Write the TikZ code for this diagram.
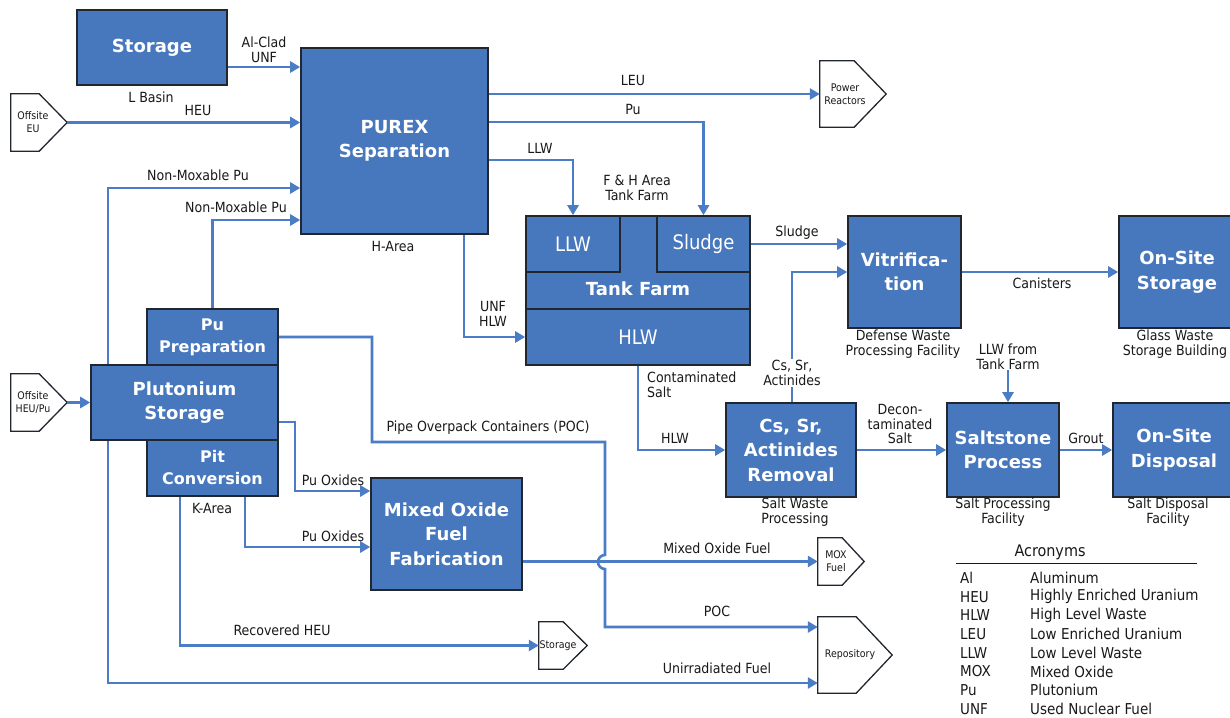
\documentclass[tikz,border=0pt]{standalone}
\usepackage{fontspec}
\setmainfont{DejaVu Sans}
\newfontfamily\condfont{DejaVu Sans Condensed}
\usetikzlibrary{arrows.meta}

\definecolor{boxblue}{RGB}{71,119,189}
\definecolor{flowblue}{RGB}{74,125,198}
\definecolor{edgeink}{RGB}{34,38,46}
\definecolor{ink}{RGB}{25,25,25}

\tikzset{
  proc/.style={draw=edgeink, line width=1.6pt, fill=boxblue, text=white,
    font=\bfseries\fontsize{18}{24.5}\selectfont, align=center, inner sep=0pt},
  subproc/.style={proc, font=\bfseries\fontsize{16}{22}\selectfont},
  tankpart/.style={proc, font=\condfont\fontsize{20}{22}\selectfont},
  lbl/.style={text=ink, font=\condfont\fontsize{14}{14.5}\selectfont, align=center, inner sep=0pt},
  acr/.style={text=ink, font=\condfont\fontsize{15}{16}\selectfont, inner sep=0pt, anchor=west},
  flow/.style={draw=flowblue, line width=2.6pt, -{Triangle[length=10pt,width=11pt]}},
  flowline/.style={draw=flowblue, line width=2.6pt},
  termhold/.style={inner sep=0pt},
  termline/.style={draw=edgeink, line width=1.3pt, fill=white},
  termtxt/.style={text=ink, font=\condfont\fontsize{10.5}{13}\selectfont, align=center, inner sep=0pt},
}

% outline of a terminal (pentagon pointing right) around a holder node
\newcommand\termshape[2]{%
  \draw[termline] (#1.north west) -- ([xshift=-#2pt]#1.north east) -- (#1.east)
    -- ([xshift=-#2pt]#1.south east) -- (#1.south west) -- cycle;}

\begin{document}
\begin{tikzpicture}[x=1pt,y=-1pt]
\useasboundingbox[fill=white] (0,0) rectangle (1230,717);

% ---------- process boxes ----------
\node[proc, minimum width=150pt, minimum height=75pt] (storage) at (152,47.5) {Storage};
\node[proc, minimum width=187pt, minimum height=186pt] (purex) at (394.5,141) {PUREX\\Separation};

\node[proc, minimum width=224pt, minimum height=149pt] (tank) at (638,290.5) {};
\node[tankpart, minimum width=94pt, minimum height=56pt] (llw) at (573,244) {LLW};
\node[tankpart, minimum width=93pt, minimum height=56pt] (sludge) at (703.5,244) {Sludge};
\node[tankpart, minimum width=224pt, minimum height=56pt] (hlw) at (638,337) {HLW};
\node[text=white, font=\bfseries\fontsize{18}{22}\selectfont, inner sep=0pt] (tanklbl) at (638,289) {Tank Farm};

\node[proc, minimum width=113pt, minimum height=112pt] (vitrif) at (904.5,272) {Vitrifica-\\tion};
\node[proc, minimum width=116pt, minimum height=112pt] (onsite) at (1177,272) {On-Site\\Storage};

\node[subproc, minimum width=131pt, minimum height=56pt] (puprep) at (212.5,337) {Pu\\Preparation};
\node[subproc, minimum width=131pt, minimum height=56pt] (pitconv) at (212.5,468) {Pit\\Conversion};
\node[proc, minimum width=187pt, minimum height=75pt] (pustor) at (184.5,402.5) {Plutonium\\Storage};

\node[proc, minimum width=151pt, minimum height=112pt] (mox) at (446.5,534) {Mixed Oxide\\Fuel\\Fabrication};
\node[proc, minimum width=130pt, minimum height=94pt] (cssr) at (791,450) {Cs, Sr,\\Actinides\\Removal};
\node[proc, minimum width=112pt, minimum height=94pt] (saltstone) at (1003,450) {Saltstone\\Process};
\node[proc, minimum width=122pt, minimum height=94pt] (disposal) at (1174,450) {On-Site\\Disposal};

% ---------- terminals ----------
\node[termhold, minimum width=56pt, minimum height=57pt] (offeu) at (39,122.5) {};
\termshape{offeu}{28}
\node[termtxt] (offeutxt) at (33,122) {Offsite\\EU};

\node[termhold, minimum width=56pt, minimum height=57pt] (offpu) at (39,402.5) {};
\termshape{offpu}{28}
\node[termtxt] (offputxt) at (33,402) {Offsite\\HEU/Pu};

\node[termhold, minimum width=66pt, minimum height=66pt] (power) at (853,94) {};
\termshape{power}{32}
\node[termtxt] (powertxt) at (845,94) {Power\\Reactors};

\node[termhold, minimum width=46pt, minimum height=47pt] (moxfuel) at (841,561.5) {};
\termshape{moxfuel}{22}
\node[termtxt] (moxfueltxt) at (836,561) {MOX\\Fuel};

\node[termhold, minimum width=74pt, minimum height=76pt] (repo) at (855,655) {};
\termshape{repo}{36}
\node[termtxt] (repotxt) at (850,655) {Repository};

\node[termhold, minimum width=48pt, minimum height=47pt] (stor2) at (563,645.5) {};
\termshape{stor2}{24}
\node[termtxt] (stor2txt) at (558,646) {Storage};

% ---------- flows ----------
\draw[flow] (storage.east |- 0,67) -- (purex.west |- 0,67);
\draw[flow] (offeu.east) -- (purex.west |- offeu.east);
\draw[flow] (pustor.north -| 108,0) |- (purex.west |- 0,188);
\draw[flow] (puprep.north) |- (purex.west |- 0,220);
\draw[flow] (purex.east |- power.west) -- (power.west);
\draw[flow] (purex.east |- 0,122) -| (sludge.north);
\draw[flow] (purex.east |- 0,160) -| (llw.north);
\draw[flow] (purex.south -| 464,0) |- (hlw.west);
\draw[flow] (sludge.east) -- (vitrif.west |- sludge.east);
\draw[flow] (cssr.north -| 792,0) |- (vitrif.west);
\draw[flow] (vitrif.east) -- (onsite.west);
\draw[flow] (hlw.south) |- (cssr.west);
\draw[flow] (cssr.east) -- (saltstone.west);
\draw[flow] (saltstone.east) -- (disposal.west);
\draw[flow] (offpu.east) -- (pustor.west);
\draw[flow] (pustor.east |- 0,422) -| (295,491) -- (mox.west |- 0,491);
\draw[flow] (pitconv.south -| 245,0) |- (mox.west |- 0,547);
\draw[flow] (mox.east |- moxfuel.west) -- (moxfuel.west);
\draw[flow] (pitconv.south -| 180,0) |- (stor2.west);
\draw[flow] (pustor.south -| 108,0) |- (repo.west |- 0,683);
% pipe overpack containers, hopping over the MOX fuel line
\draw[flow] (puprep.east) -- (372,337) -- (372,442) -- (605,442) -- (605,555)
  arc[start angle=90, end angle=270, radius=7pt] -- (605,627) -- (repo.west |- 0,627);

% ---------- flow labels ----------
\node[lbl] (l1) at (264,50) {Al-Clad\\UNF};
\node[lbl] (l2) at (198,110) {HEU};
\node[lbl] (l3) at (198,175) {Non-Moxable Pu};
\node[lbl] (l4) at (236,207) {Non-Moxable Pu};
\node[lbl] (l5) at (633,80) {LEU};
\node[lbl] (l6) at (633,109) {Pu};
\node[lbl] (l7) at (540,148) {LLW};
\node[lbl] (l8) at (637,188) {F \& H Area\\Tank Farm};
\node[lbl] (l9) at (493,314) {UNF\\HLW};
\node[lbl] (l10) at (797,233) {Sludge};
\node[lbl, fill=white, inner sep=1pt] (l11) at (792,373) {Cs, Sr,\\Actinides};
\node[lbl] (l12) at (1042,283) {Canisters};
\node[lbl] (l13) at (675,438) {HLW};
\node[lbl, anchor=west, align=left] (l14) at (647,385) {Contaminated\\Salt};
\node[lbl] (l15) at (900,424) {Decon-\\taminated\\Salt};
\node[lbl] (llwft) at (1008,357) {LLW from\\Tank Farm};
\draw[flow] (llwft.south) -- (saltstone.north -| llwft.south);
\node[lbl] (l17) at (1086,438) {Grout};
\node[lbl] (l18) at (488,428) {Pipe Overpack Containers (POC)};
\node[lbl] (l19) at (717,611) {POC};
\node[lbl] (l20) at (333,480) {Pu Oxides};
\node[lbl] (l21) at (333,536) {Pu Oxides};
\node[lbl] (l22) at (717,548) {Mixed Oxide Fuel};
\node[lbl] (l23) at (282,630) {Recovered HEU};
\node[lbl] (l24) at (717,668) {Unirradiated Fuel};

% ---------- site labels ----------
\node[lbl] (sl1) at (151,97) {L Basin};
\node[lbl] (sl2) at (393,246) {H-Area};
\node[lbl] (sl3) at (212,508) {K-Area};
\node[lbl] (sl4) at (903,344) {Defense Waste\\Processing Facility};
\node[lbl] (sl5) at (1175,344) {Glass Waste\\Storage Building};
\node[lbl] (sl6) at (795,512) {Salt Waste\\Processing};
\node[lbl] (sl7) at (1003,512) {Salt Processing\\Facility};
\node[lbl] (sl8) at (1168,512) {Salt Disposal\\Facility};

% ---------- acronyms ----------
\node[text=ink, font=\condfont\fontsize{16}{18}\selectfont, inner sep=0pt] (acrtitle) at (1050,552) {Acronyms};
\draw[draw=ink, line width=1.2pt] (acrtitle.south -| 956,0) ++(0,4) coordinate (rulel) (rulel) -- (rulel -| 1197,0);
\foreach \k/\v [count=\i] in {Al/Aluminum, HEU/Highly Enriched Uranium, HLW/High Level Waste,
    LEU/Low Enriched Uranium, LLW/Low Level Waste, MOX/Mixed Oxide, Pu/Plutonium, UNF/Used Nuclear Fuel}{
  \pgfmathsetmacro\yy{578+(\i-1)*18.7}
  \node[acr] (acrk\i) at (960,\yy) {\k};
  \node[acr] (acrv\i) at (1030,\yy) {\v};
}
\end{tikzpicture}
\end{document}
